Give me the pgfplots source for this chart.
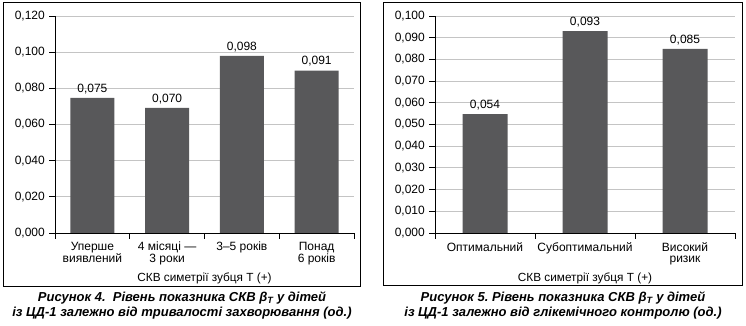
\documentclass[border=0pt]{standalone}
\usepackage{pgfplots}
\pgfplotsset{compat=1.18}
\usepackage{fontspec}
\setmainfont{Liberation Sans}
\definecolor{barc}{HTML}{58585A}
\definecolor{gridc}{HTML}{C4C4C4}
\pgfplotsset{
  myax/.style={
    scale only axis,
    anchor=south west,
    height=217pt,
    axis lines*=left,
    axis line style={black, line width=0.8pt},
    ybar,
    ymin=0,
    ymajorgrids,
    grid style={gridc, line width=0.8pt},
    tick align=outside,
    major tick length=6pt,
    tick style={black, line width=0.8pt},
    scaled y ticks=false,
    /pgf/number format/assume math mode=true,
    yticklabel style={/pgf/number format/.cd, fixed, fixed zerofill, precision=3, use comma},
    xticklabels={},
    xticklabel style={align=center, font=\fontsize{12}{11.8}\selectfont, yshift=-5pt},
    extra x tick style={major tick length=0pt, tick style={draw=none}},
    point meta=explicit symbolic,
    nodes near coords,
    nodes near coords style={black},
    xlabel style={at={(axis description cs:0.5,-0.207)}, anchor=center, font=\fontsize{11.8}{12}\selectfont},
  }
}
\begin{document}
\fontsize{12}{12}\selectfont
\begin{tikzpicture}[x=1pt,y=1pt]
\useasboundingbox (0,0) rectangle (746,326);
\draw[line width=1pt] (3,39) rectangle (360,323);
\draw[line width=1pt] (383,40) rectangle (742,323);
\begin{axis}[myax,
  at={(55pt,93pt)},
  width=299pt,
  xmin=-0.5, xmax=3.5,
  ymax=0.12,
  ytick={0,0.02,0.04,0.06,0.08,0.1,0.12},
  xtick={-0.5,0.5,1.5,2.5,3.5},
  extra x ticks={0,1,2,3},
  extra x tick labels={{Уперше\\виявлений},{4 місяці —\\3 роки},{3–5 років},{Понад\\6 років}},
  bar width=44pt,
  xlabel={СКВ симетрії зубця Т (+)},
]
\addplot[fill=barc, draw=none] coordinates {(0,0.0747)[0,075] (1,0.0692)[0,070] (2,0.0979)[0,098] (3,0.0898)[0,091]};
\end{axis}
\begin{axis}[myax,
  at={(435pt,93pt)},
  width=300pt,
  xmin=-0.5, xmax=2.5,
  ymax=0.1,
  ytick={0,0.01,0.02,0.03,0.04,0.05,0.06,0.07,0.08,0.09,0.1},
  xtick={-0.5,0.5,1.5,2.5},
  extra x ticks={0,1,2},
  extra x tick labels={{Оптимальний},{Субоптимальний},{Високий\\ризик}},
  bar width=45pt,
  xlabel={СКВ симетрії зубця Т (+)},
]
\addplot[fill=barc, draw=none] coordinates {(0,0.0548)[0,054] (1,0.0930)[0,093] (2,0.0848)[0,085]};
\end{axis}
\node[align=center, font=\bfseries\itshape\fontsize{13}{15}\selectfont] at (182,20.5) {Рисунок 4.~~Рівень показника СКВ β\textsubscript{T} у дітей\\із ЦД-1 залежно від тривалості захворювання (од.)};
\node[align=center, font=\bfseries\itshape\fontsize{13}{15}\selectfont] at (563,20.5) {Рисунок 5.~Рівень показника СКВ β\textsubscript{T} у дітей\\із ЦД-1 залежно від глікемічного контролю (од.)};
\end{tikzpicture}
\end{document}
